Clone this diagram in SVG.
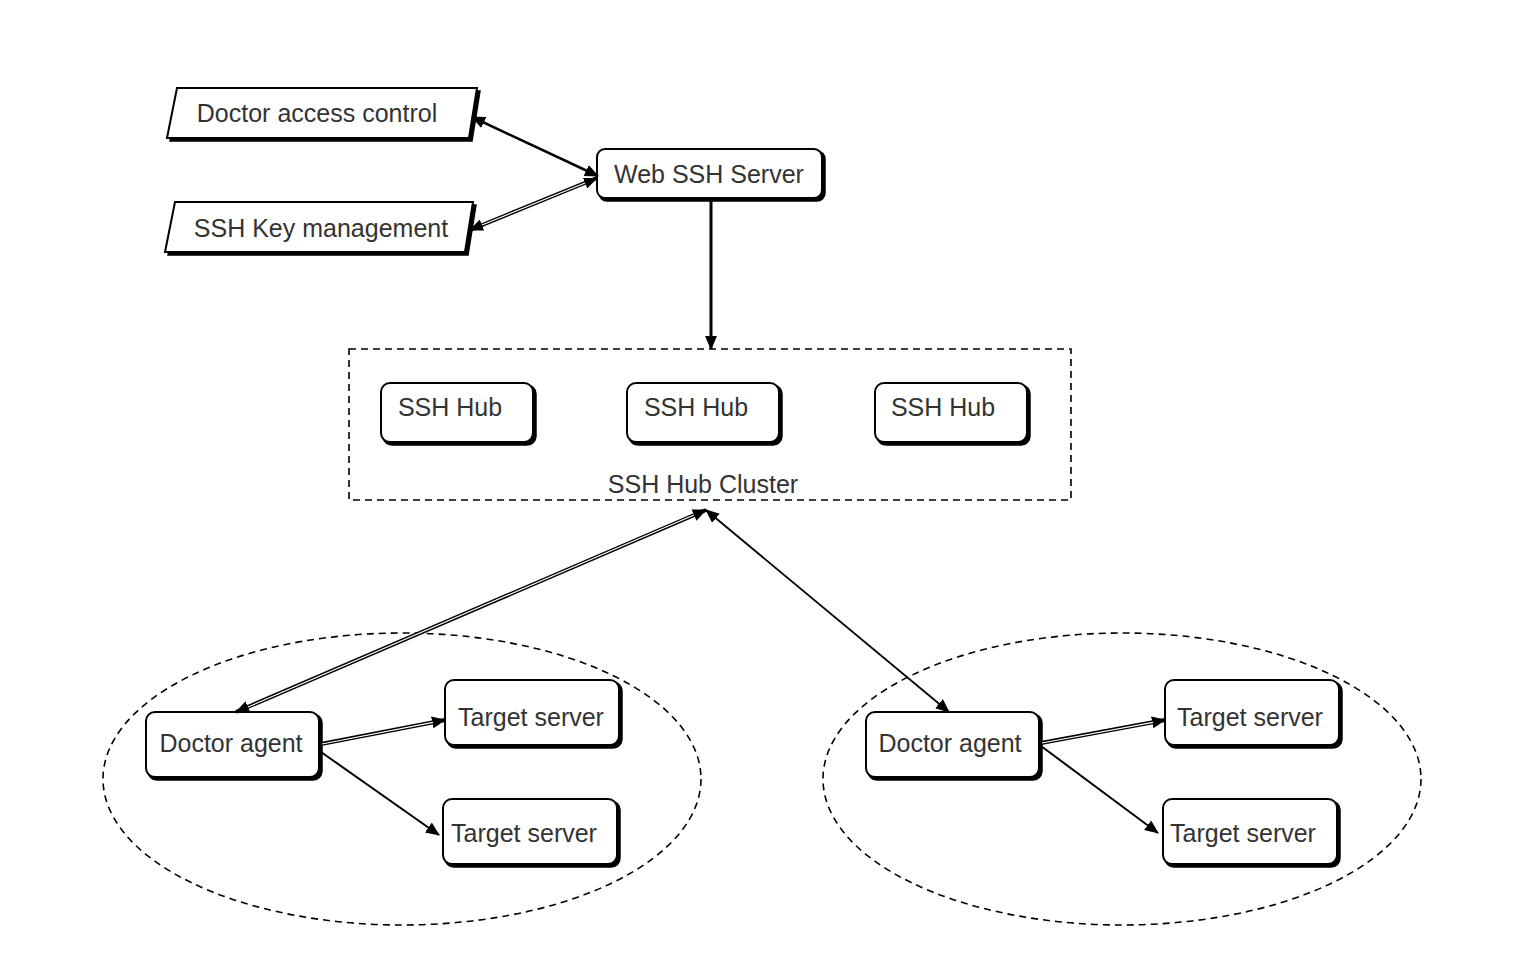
<svg xmlns="http://www.w3.org/2000/svg" width="1540" height="968" viewBox="0 0 1540 968">
<defs>
<marker id="ah" markerUnits="userSpaceOnUse" markerWidth="14" markerHeight="12" viewBox="0 0 14 12" refX="13" refY="6" orient="auto-start-reverse">
<path d="M0,0 L14,6 L0,12 z" fill="#000"/>
</marker>
<style>
.box{fill:#fff;stroke:#000;stroke-width:2}
.sh{fill:#000;stroke:#000;stroke-width:1.5}
.t{font-family:"Liberation Sans",Arial,sans-serif;font-size:25px;fill:#333;text-anchor:middle}
.dash{fill:none;stroke:#000;stroke-width:1.6;stroke-dasharray:7 5}
.ln{fill:none;stroke:#000}
.inner{fill:none;stroke:#fff;stroke-width:1.2}
</style>
</defs>
<rect width="1540" height="968" fill="#fff"/>

<g id="cluster">
<rect x="349" y="349" width="722" height="151" class="dash"/>
<text x="703" y="493" class="t">SSH Hub Cluster</text>
</g>
<g id="group-left"><ellipse cx="402" cy="779" rx="299" ry="146" class="dash" stroke-width="1.3"/></g>
<g id="group-right"><ellipse cx="1122" cy="779" rx="299" ry="146" class="dash" stroke-width="1.3"/></g>

<g id="doctor-access-control">
<polygon points="180,91 480,91 472,141 170,141" class="sh"/>
<polygon points="177,88 477,88 469,138 167,138" class="box"/>
<text x="317" y="122" class="t">Doctor access control</text>
</g>
<g id="ssh-key-management">
<polygon points="178,205 476,205 468,255 168,255" class="sh"/>
<polygon points="175,202 473,202 465,252 165,252" class="box"/>
<text x="321" y="237" class="t">SSH Key management</text>
</g>
<g id="web-ssh-server">
<rect x="599" y="151" width="226" height="50" rx="8" class="sh"/>
<rect x="597" y="149" width="225" height="49" rx="8" class="box"/>
<text x="709" y="183" class="t">Web SSH Server</text>
</g>
<g id="ssh-hub-1">
<rect x="383" y="385" width="153" height="60" rx="9" class="sh"/>
<rect x="381" y="383" width="152" height="59" rx="9" class="box"/>
<text x="450" y="416" class="t">SSH Hub</text>
</g>
<g id="ssh-hub-2">
<rect x="629" y="385" width="153" height="60" rx="9" class="sh"/>
<rect x="627" y="383" width="152" height="59" rx="9" class="box"/>
<text x="696" y="416" class="t">SSH Hub</text>
</g>
<g id="ssh-hub-3">
<rect x="877" y="385" width="153" height="60" rx="9" class="sh"/>
<rect x="875" y="383" width="152" height="59" rx="9" class="box"/>
<text x="943" y="416" class="t">SSH Hub</text>
</g>

<g id="doctor-agent-left">
<rect x="148" y="714" width="174" height="66" rx="9" class="sh"/>
<rect x="146" y="712" width="173" height="65" rx="9" class="box"/>
<text x="231" y="752" class="t">Doctor agent</text>
</g>
<g id="target-server-left-1">
<rect x="447" y="682" width="175" height="66" rx="9" class="sh"/>
<rect x="445" y="680" width="174" height="65" rx="9" class="box"/>
<text x="531" y="726" class="t">Target server</text>
</g>
<g id="target-server-left-2">
<rect x="445" y="801" width="175" height="66" rx="9" class="sh"/>
<rect x="443" y="799" width="174" height="65" rx="9" class="box"/>
<text x="524" y="842" class="t">Target server</text>
</g>
<g id="doctor-agent-right">
<rect x="868" y="714" width="174" height="66" rx="9" class="sh"/>
<rect x="866" y="712" width="173" height="65" rx="9" class="box"/>
<text x="950" y="752" class="t">Doctor agent</text>
</g>
<g id="target-server-right-1">
<rect x="1167" y="682" width="175" height="66" rx="9" class="sh"/>
<rect x="1165" y="680" width="174" height="65" rx="9" class="box"/>
<text x="1250" y="726" class="t">Target server</text>
</g>
<g id="target-server-right-2">
<rect x="1165" y="801" width="175" height="66" rx="9" class="sh"/>
<rect x="1163" y="799" width="174" height="65" rx="9" class="box"/>
<text x="1243" y="842" class="t">Target server</text>
</g>

<g id="connectors">
<line x1="472" y1="117" x2="598" y2="176" class="ln" stroke-width="2.5" marker-start="url(#ah)" marker-end="url(#ah)"/>
<line x1="470" y1="230" x2="597" y2="178" class="ln" stroke-width="4" marker-start="url(#ah)" marker-end="url(#ah)"/>
<line x1="482" y1="225" x2="585" y2="183" class="inner"/>
<line x1="711" y1="201" x2="711" y2="349" class="ln" stroke-width="3" marker-end="url(#ah)"/>
<line x1="236" y1="712" x2="706" y2="510" class="ln" stroke-width="4" marker-start="url(#ah)" marker-end="url(#ah)"/>
<line x1="248" y1="707" x2="694" y2="515" class="inner"/>
<line x1="706" y1="510" x2="949" y2="712" class="ln" stroke-width="1.8" marker-start="url(#ah)" marker-end="url(#ah)"/>
<line x1="321" y1="744" x2="445" y2="720" class="ln" stroke-width="4" marker-end="url(#ah)"/>
<line x1="322" y1="744" x2="433" y2="722.3" class="inner"/>
<line x1="321" y1="752" x2="439" y2="835" class="ln" stroke-width="2" marker-end="url(#ah)"/>
<line x1="1041" y1="743" x2="1165" y2="720" class="ln" stroke-width="4" marker-end="url(#ah)"/>
<line x1="1042" y1="743" x2="1153" y2="722.3" class="inner"/>
<line x1="1041" y1="746" x2="1158" y2="833" class="ln" stroke-width="2" marker-end="url(#ah)"/>
</g>
</svg>
